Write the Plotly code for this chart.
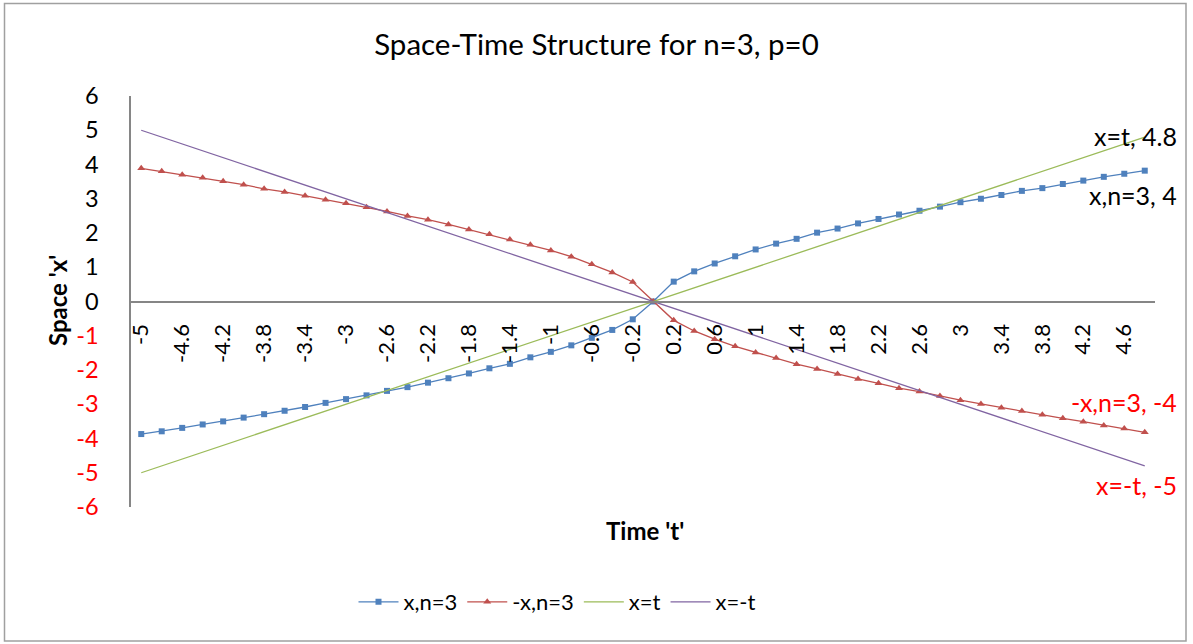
import plotly.graph_objects as go

# ---- data ----
t = [-5.0, -4.8, -4.6, -4.4, -4.2, -4.0, -3.8, -3.6, -3.4, -3.2, -3.0, -2.8, -2.6, -2.4, -2.2,
     -2.0, -1.8, -1.6, -1.4, -1.2, -1.0, -0.8, -0.6, -0.4, -0.2, 0.0, 0.2, 0.4, 0.6, 0.8, 1.0,
     1.2, 1.4, 1.6, 1.8, 2.0, 2.2, 2.4, 2.6, 2.8, 3.0, 3.2, 3.4, 3.6, 3.8, 4.0, 4.2, 4.4, 4.6, 4.8]

x_n3 = [-3.87, -3.79, -3.69, -3.59, -3.50, -3.39, -3.29, -3.19, -3.08, -2.96, -2.85, -2.74, -2.61,
        -2.50, -2.37, -2.24, -2.10, -1.95, -1.82, -1.63, -1.47, -1.28, -1.06, -0.83, -0.52, 0.0,
        0.58, 0.88, 1.11, 1.32, 1.52, 1.69, 1.83, 2.01, 2.13, 2.28, 2.41, 2.54, 2.65, 2.77, 2.90,
        3.00, 3.11, 3.23, 3.31, 3.43, 3.53, 3.64, 3.73, 3.82]

neg_x_n3 = [3.89, 3.80, 3.70, 3.61, 3.51, 3.41, 3.29, 3.20, 3.09, 2.97, 2.87, 2.75, 2.63, 2.50,
            2.39, 2.25, 2.10, 1.96, 1.81, 1.66, 1.49, 1.31, 1.09, 0.85, 0.57, 0.0, -0.55, -0.86,
            -1.10, -1.31, -1.49, -1.65, -1.83, -1.97, -2.12, -2.26, -2.39, -2.53, -2.63, -2.76,
            -2.88, -2.99, -3.10, -3.20, -3.31, -3.41, -3.51, -3.62, -3.71, -3.82]

x_eq_t = [-5.0, -4.8, -4.6, -4.4, -4.2, -4.0, -3.8, -3.6, -3.4, -3.2, -3.0, -2.8, -2.6, -2.4, -2.2,
          -2.0, -1.8, -1.6, -1.4, -1.2, -1.0, -0.8, -0.6, -0.4, -0.2, 0.0, 0.2, 0.4, 0.6, 0.8, 1.0,
          1.2, 1.4, 1.6, 1.8, 2.0, 2.2, 2.4, 2.6, 2.8, 3.0, 3.2, 3.4, 3.6, 3.8, 4.0, 4.2, 4.4, 4.6, 4.8]

x_eq_neg_t = [5.0, 4.8, 4.6, 4.4, 4.2, 4.0, 3.8, 3.6, 3.4, 3.2, 3.0, 2.8, 2.6, 2.4, 2.2,
              2.0, 1.8, 1.6, 1.4, 1.2, 1.0, 0.8, 0.6, 0.4, 0.2, 0.0, -0.2, -0.4, -0.6, -0.8, -1.0,
              -1.2, -1.4, -1.6, -1.8, -2.0, -2.2, -2.4, -2.6, -2.8, -3.0, -3.2, -3.4, -3.6, -3.8,
              -4.0, -4.2, -4.4, -4.6, -4.8]

series_names = ["x,n=3", "-x,n=3", "x=t", "x=-t"]

x_tick_vals = [-5.0, -4.6, -4.2, -3.8, -3.4, -3.0, -2.6, -2.2, -1.8, -1.4, -1.0, -0.6, -0.2,
               0.2, 0.6, 1.0, 1.4, 1.8, 2.2, 2.6, 3.0, 3.4, 3.8, 4.2, 4.6]
x_tick_text = ["-5", "-4.6", "-4.2", "-3.8", "-3.4", "-3", "-2.6", "-2.2", "-1.8", "-1.4", "-1",
               "-0.6", "-0.2", "0.2", "0.6", "1", "1.4", "1.8", "2.2", "2.6", "3", "3.4", "3.8",
               "4.2", "4.6"]
y_tick_vals = [6, 5, 4, 3, 2, 1, 0, -1, -2, -3, -4, -5, -6]

end_labels = ["x=t, 4.8", "x,n=3, 4", "-x,n=3, -4", "x=-t, -5"]

# ---- styling ----
FONT = "Lato"
BLUE = "#4F81BD"
RED = "#C0504D"
GREEN = "#9BBB59"
PURPLE = "#8064A2"
AXIS = "#868686"
LABEL_RED = "#FF0000"

W, H = 1193, 644
L, R, T, B = 131, 1155, 96, 507

fig = go.Figure()
fig.add_trace(go.Scatter(x=t, y=x_n3, name=series_names[0], mode="lines+markers",
                         line=dict(color=BLUE, width=1.3),
                         marker=dict(symbol="square", size=6, color=BLUE)))
fig.add_trace(go.Scatter(x=t, y=neg_x_n3, name=series_names[1], mode="lines+markers",
                         line=dict(color=RED, width=1.3),
                         marker=dict(symbol="triangle-up", size=7, color=RED)))
fig.add_trace(go.Scatter(x=t, y=x_eq_t, name=series_names[2], mode="lines",
                         line=dict(color=GREEN, width=1.3)))
fig.add_trace(go.Scatter(x=t, y=x_eq_neg_t, name=series_names[3], mode="lines",
                         line=dict(color=PURPLE, width=1.3)))

y_tick_text = [str(v) if v >= 0 else '<span style="color:%s">%d</span>' % (LABEL_RED, v)
               for v in y_tick_vals]

def px_x(p):
    return (p - L) / (R - L)

def px_y(p):
    return (B - p) / (B - T)

fig.update_layout(
    width=W, height=H,
    margin=dict(l=L, r=W - R, t=T, b=H - B, autoexpand=False),
    paper_bgcolor="white", plot_bgcolor="white",
    font=dict(family=FONT, size=22, color="black"),
    title=dict(text="Space-Time Structure for n=3, p=0", x=0.5, xref="container",
               y=1 - 45 / H, yref="container", xanchor="center", yanchor="middle",
               font=dict(family=FONT, size=29.5, color="black")),
    xaxis=dict(range=[-5.1, 4.9], tickmode="array", tickvals=x_tick_vals, ticktext=x_tick_text,
               tickangle=-90, showgrid=False, zeroline=False, showline=True, linecolor=AXIS,
               linewidth=1.5, anchor="free", position=0.5, ticks="outside", ticklen=13,
               tickcolor="rgba(0,0,0,0)", tickfont=dict(size=22)),
    yaxis=dict(range=[-6, 6], tickmode="array", tickvals=y_tick_vals, ticktext=y_tick_text,
               showgrid=False, zeroline=False, showline=True, linecolor=AXIS, linewidth=1.5,
               ticks="outside", ticklen=26, tickcolor="rgba(0,0,0,0)", tickfont=dict(size=23.5)),
    showlegend=True,
    legend=dict(orientation="h", x=px_x(557), y=px_y(602), xanchor="center", yanchor="middle",
                font=dict(size=22), bgcolor="rgba(0,0,0,0)", itemwidth=40),
)

annotations = [
    dict(text="<b>Time 't'</b>", x=px_x(645), y=px_y(530), xref="paper", yref="paper",
         showarrow=False, font=dict(size=24), xanchor="center", yanchor="middle"),
    dict(text="<b>Space 'x'</b>", x=px_x(57), y=px_y(301), xref="paper", yref="paper",
         showarrow=False, font=dict(size=24), textangle=-90, xanchor="center", yanchor="middle"),
]
label_specs = [
    (end_labels[0], x_eq_t[-1], "black", 1),
    (end_labels[1], x_n3[-1], "black", -24),
    (end_labels[2], neg_x_n3[-1], LABEL_RED, 30),
    (end_labels[3], x_eq_neg_t[-1], LABEL_RED, -19),
]
for txt, yv, col, ys in label_specs:
    annotations.append(dict(text=txt, x=t[-1], y=yv, xref="x", yref="y", showarrow=False,
                            xanchor="right", yanchor="middle", xshift=34, yshift=ys,
                            font=dict(size=25, color=col)))
fig.update_layout(annotations=annotations)

# outer chart border
fig.add_shape(type="rect", xref="paper", yref="paper",
              x0=px_x(4.5), x1=px_x(1186), y0=px_y(641), y1=px_y(3.5),
              line=dict(color="#A0A0A0", width=1.5), fillcolor="rgba(0,0,0,0)", layer="below")

fig.write_html("out.html")
